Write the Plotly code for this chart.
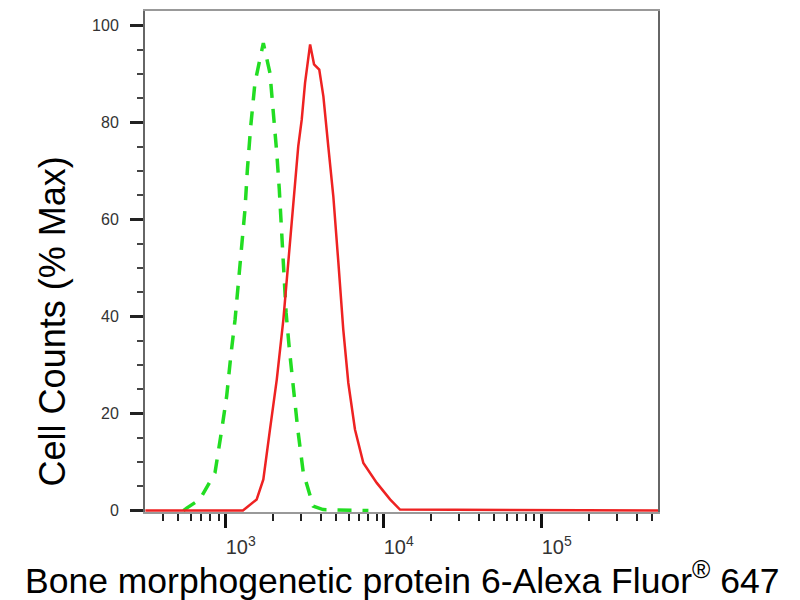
import plotly.graph_objects as go

# ── data ────────────────────────────────────────────────────────
# isotype control (green, dashed): fluorescence intensity vs % max
ctrl_x = [540, 566, 687, 855, 944, 1014, 1076, 1146, 1202, 1262, 1324, 1371,
          1439, 1531, 1730, 1905, 2000, 2104, 2183, 2259, 2339, 2410, 2529, 2679,
          2858, 3097, 3581, 4130, 8000]
ctrl_y = [0, 0.5, 2.3, 7.8, 16.7, 23.6, 31.8, 39.4, 46.9, 54.5, 62.1, 70.3,
          79.2, 88.2, 96.4, 90.2, 82.7, 73.7, 66.2, 57.9, 49.7, 40.8, 33.2, 24.9,
          16.7, 7.8, 0.9, 0.2, 0]

# BMP6 stained sample (red, solid)
bmp6_x = [310, 1285, 1570, 1730, 1905, 2104, 2317, 2489, 2679, 2877, 3027, 3177,
          3420, 3622, 3908, 4150, 4457, 4797, 5164, 5546, 5970, 6577, 7430, 9036,
          10965, 12677, 545000]
bmp6_y = [0, 0, 2.3, 6.4, 16.7, 27.0, 39.4, 51.1, 63.4, 75.1, 80.6, 88.2,
          96.1, 92.0, 90.9, 85.4, 75.1, 64.8, 51.1, 37.3, 26.3, 16.7, 9.8, 5.7,
          2.3, 0.2, 0]

y_ticks = [0, 20, 40, 60, 80, 100]

fig = go.Figure()

fig.add_trace(go.Scatter(x=ctrl_x, y=ctrl_y, mode='lines', name='Isotype',
    line=dict(color='#22dd22', width=3.5, dash='14px,11px')))
fig.add_trace(go.Scatter(x=bmp6_x, y=bmp6_y, mode='lines', name='BMP6',
    line=dict(color='#ee2222', width=2.5)))

font_family = 'Liberation Sans, Arial, sans-serif'

# page body adds an 8px offset, margins are set to compensate
fig.update_layout(
    width=800, height=600,
    paper_bgcolor='white', plot_bgcolor='white',
    showlegend=False,
    margin=dict(l=137, r=150, t=3, b=96),
    font=dict(family=font_family, color='#222'),
)

fig.update_xaxes(
    type='log', range=[2.489, 5.736], automargin=False,
    tick0=0, dtick=1, exponentformat='power',
    ticks='outside', ticklen=14, tickwidth=3, tickcolor='#111',
    ticklabelshift=15, ticklabelstandoff=3,
    tickfont=dict(size=16, color='#333'),
    minor=dict(ticks='outside', ticklen=7, tickwidth=2, tickcolor='#222', dtick='D1'),
    showline=True, linecolor='#999', linewidth=2, mirror=True,
    showgrid=False, zeroline=False,
)
fig.update_yaxes(
    range=[-0.3, 103.0], automargin=False,
    tickvals=y_ticks,
    ticks='outside', ticklen=13, tickwidth=3, tickcolor='#222',
    ticklabelstandoff=8,
    tickfont=dict(size=16, color='#333'),
    minor=dict(ticks='outside', ticklen=6, tickwidth=2, tickcolor='#444', dtick=5),
    showline=True, linecolor='#666', linewidth=2, mirror=True,
    showgrid=False, zeroline=False,
)

# axis titles as annotations so they can be placed like the reference
fig.add_annotation(
    text='Bone morphogenetic protein 6-Alexa Fluor<sup>®</sup> 647',
    xref='paper', x=0.5, xanchor='center',
    yref='paper', y=0, yshift=-66, yanchor='middle',
    showarrow=False, font=dict(size=35.5, color='#000'),
)
fig.add_annotation(
    text='Cell Counts (% Max)', textangle=-90,
    xref='paper', x=0, xshift=-93, xanchor='center',
    yref='y', y=39, yanchor='middle',
    showarrow=False, font=dict(size=36, color='#000'),
)

fig.write_html('out.html')
